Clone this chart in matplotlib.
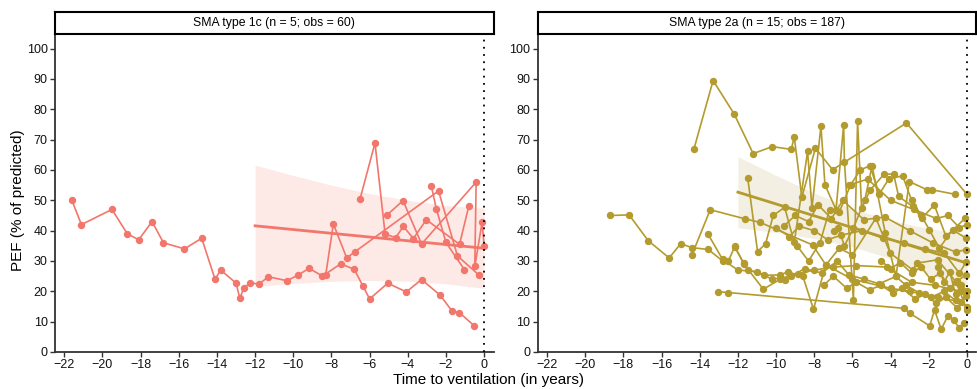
import numpy as np
import matplotlib
matplotlib.use("Agg")
import matplotlib.pyplot as plt

plt.rcParams["font.family"] = ["Liberation Sans", "DejaVu Sans"]

# ---- data: SMA type 1c (5 patients) ----
t1c = [
    [-21.6, -21.1, -19.5, -18.7, -18.1, -17.4, -16.8, -15.7, -14.8, -14.1, -13.8, -13.0, -12.8, -12.6, -12.25,
     -11.8, -11.3, -10.33, -9.74, -9.17, -8.47, -7.51, -6.8, -6.34, -6.0, -5.05, -4.08, -3.28, -2.3, -1.67, -1.3, -0.53],
    [-8.3, -7.9, -7.2, -6.78, -2.39, -1.4, -0.28],
    [-6.5, -5.72, -5.19, -4.64, -4.23, -3.71, -3.03, -1.29, -0.8],
    [-5.1, -4.25, -3.28, -0.42, -0.49, -0.11, 0.0],
    [-2.77, -2.51, -2.0, -1.03],
]
v1c = [
    [50.0, 42.0, 47.0, 39.0, 37.0, 43.0, 36.0, 34.0, 37.5, 24.0, 27.0, 22.7, 17.7, 21.0, 22.8,
     22.4, 24.8, 23.5, 25.4, 27.6, 25.0, 29.1, 27.2, 21.6, 17.5, 22.7, 19.8, 23.9, 18.7, 13.4, 13.0, 8.7],
    [25.5, 42.2, 31.0, 33.0, 53.1, 31.7, 25.4],
    [50.5, 68.9, 38.9, 37.7, 41.4, 37.4, 43.6, 35.5, 48.2],
    [45.1, 49.9, 35.6, 56.0, 28.2, 42.7, 35.1],
    [54.8, 47.3, 36.1, 27.1],
]
fit1c_x = [-12, 0]
fit1c_y = [41.6, 34.2]
band1c_x = [-12, -10, -8, -6, -4, -2, 0]
band1c_lo = [21.6, 22.6, 23.3, 23.6, 23.4, 22.5, 21.0]
band1c_hi = [61.6, 58.2, 55.0, 52.2, 50.0, 48.3, 47.4]

# ---- data: SMA type 2a (15 patients) ----
t2a = [
    [-14.3, -13.3, -12.2, -11.2, -10.2, -9.2, -9.05, -8.65, -7.94, -7.04, -3.17, 0.0],
    [-18.7, -17.7, -16.7, -15.6, -15.0, -14.4, -13.55, -12.8, -12.5, -12.17, -11.7, -11.45, -10.65, -9.78,
     -9.4, -8.6, -8.04, -7.4, -6.0, -4.0, -3.0, -1.5, -0.3],
    [-14.41, -13.45, -11.63, -10.83, -8.09, -7.39, -6.69, -6.0, -4.77, -4.02, -2.85, -2.6, -1.54, -0.58, 0.0],
    [-11.49, -10.97, -10.55, -10.15, -9.55, -9.05, -8.35, -8.12, -7.65, -7.44, -6.86, -6.46, -6.42, -5.95,
     -5.73, -5.52, -5.06, -4.33, -3.84, -3.58, -2.85, -2.36, -1.71, -1.1, -0.09],
    [-13.57, -12.8, -12.0, -11.0, -10.2, -9.2, -8.5, -7.6, -6.8, -6.2, -5.4, -4.6, -3.72, -3.2, -2.5, -1.9,
     -1.2, -0.6, 0.0],
    [-13.05, -12.5, -3.3, -3.0, -1.95, -1.7, -1.35, -1.0, -0.7, -0.4, -0.15],
    [-6.95, -6.74, -6.42, -5.95, -5.35, -4.97, -4.28, -3.72, -3.02, -2.1, -1.85, -0.63],
    [-8.9, -8.3, -7.7, -7.2, -6.7, -6.1, -5.6, -5.08, -4.6, -4.1, -3.37, -2.9, -2.4, -1.97, -1.45, -0.75,
     -0.05],
    [-10.0, -9.3, -8.8, -8.0, -7.3, -6.6, -5.5, -4.4, -3.3, -2.2, -1.19, -0.4, -0.05],
    [-7.5, -7.0, -6.3, -5.8, -5.1, -4.5, -3.9, -3.4, -2.7, -2.2, -1.6, -1.1, -0.5, -0.05],
    [-12.17, -11.68, -10.67, -9.78, -9.55, -8.85, -8.0, -7.0, -5.8, -4.2, -2.9, -1.7, -0.3],
    [-9.6, -9.0, -8.3, -7.8, -7.1, -6.5, -5.4, -4.3, -3.0, -1.8, -0.6, -0.05],
    [-4.5, -4.0, -3.5, -2.9, -2.4, -1.9, -1.4, -0.9, -0.5, -0.05],
    [-6.2, -5.2, -4.0, -2.8, -1.6, -1.0, -0.4, 0.0],
    [-1.5, -1.2, -0.9, -0.6, -0.3, 0.0],
]
v2a = [
    [67.0, 89.5, 78.5, 65.4, 67.7, 66.8, 71.0, 51.0, 67.2, 60.1, 75.5, 52.0],
    [45.0, 45.2, 36.7, 31.0, 35.7, 34.4, 33.8, 30.0, 30.0, 34.7, 29.3, 27.1, 25.3, 25.4,
     26.4, 25.0, 14.1, 28.7, 24.0, 21.0, 20.0, 18.0, 16.5],
    [32.0, 46.9, 43.9, 42.7, 35.3, 28.7, 34.2, 32.0, 44.1, 32.6, 27.1, 29.3, 30.4, 23.2, 13.9],
    [57.5, 33.1, 35.7, 45.0, 47.7, 36.1, 66.1, 47.4, 74.4, 55.1, 46.9, 74.9, 62.8, 17.2,
     76.0, 47.4, 53.5, 58.7, 58.6, 51.3, 48.0, 44.1, 48.5, 38.1, 44.1],
    [38.9, 30.5, 27.0, 26.5, 24.0, 25.0, 27.5, 26.0, 30.0, 25.5, 24.0, 22.5, 24.9, 22.0, 19.5, 18.0,
     20.0, 17.0, 15.0],
    [19.9, 19.6, 14.4, 12.8, 8.6, 13.9, 7.5, 11.9, 10.6, 7.8, 9.5],
    [40.0, 40.8, 35.0, 40.8, 50.2, 61.4, 39.2, 24.9, 56.2, 53.5, 53.5, 52.0],
    [35.0, 30.0, 36.0, 46.9, 46.0, 55.0, 60.0, 61.4, 52.0, 57.0, 58.1, 50.0, 45.0, 40.3, 34.2, 40.3,
     37.5],
    [41.0, 38.0, 41.5, 40.0, 37.0, 38.5, 40.0, 37.5, 36.0, 34.0, 32.6, 26.0, 29.6],
    [22.0, 25.0, 21.0, 23.0, 20.5, 22.0, 19.5, 21.0, 17.5, 19.0, 16.0, 18.0, 14.5, 18.3],
    [34.8, 29.0, 20.7, 24.0, 23.8, 25.8, 27.0, 28.0, 28.5, 28.0, 23.0, 22.0, 20.0],
    [41.5, 45.0, 43.0, 48.5, 44.0, 50.0, 43.6, 44.5, 40.0, 36.0, 33.0, 33.7],
    [30.0, 27.5, 29.5, 26.0, 28.0, 24.0, 26.0, 21.0, 23.5, 25.4],
    [55.0, 57.0, 50.0, 47.0, 44.0, 45.0, 41.0, 42.0],
    [28.0, 23.0, 26.5, 19.0, 22.0, 20.0],
]
fit2a_x = [-12, 0]
fit2a_y = [52.7, 29.3]
band2a_x = [-12, -10, -8, -6, -4, -2, 0]
band2a_lo = [41.0, 39.4, 37.4, 34.7, 30.8, 25.7, 19.8]
band2a_hi = [64.4, 58.2, 52.4, 47.3, 43.4, 40.7, 38.8]

titles = ["SMA type 1c (n = 5; obs = 60)", "SMA type 2a (n = 15; obs = 187)"]
colors = ["#F2766B", "#B39B2E"]
band_colors = ["#FDE9E5", "#F3EFE2"]

W, H = 978, 389
fig = plt.figure(figsize=(W / 100, H / 100), dpi=100)

panels = [
    (54.7, t1c, v1c, fit1c_x, fit1c_y, band1c_x, band1c_lo, band1c_hi),
    (537.5, t2a, v2a, fit2a_x, fit2a_y, band2a_x, band2a_lo, band2a_hi),
]
ax_w, ax_top, ax_bot = 439.0, 33.5, 352.0

for i, (x0, ts, vs, fx, fy, bx, blo, bhi) in enumerate(panels):
    ax = fig.add_axes([x0 / W, 1 - ax_bot / H, ax_w / W, (ax_bot - ax_top) / H])
    ax.fill_between(bx, blo, bhi, color=band_colors[i], lw=0, zorder=1)
    for t, v in zip(ts, vs):
        ax.plot(t, v, "-o", color=colors[i], lw=1.2, ms=4.3, zorder=3)
    ax.plot(fx, fy, color=colors[i], lw=2.0, zorder=4)
    ax.axvline(0, color="black", ls=(0, (1, 3)), lw=1.3, zorder=5)

    ax.set_xlim(-22.5, 0.5)
    ax.set_ylim(0, 105)
    ax.set_xticks(np.arange(-22, 1, 2))
    ax.set_xticklabels([f"\u2212{abs(k)}" if k < 0 else "0" for k in range(-22, 1, 2)])
    ax.set_yticks(np.arange(0, 101, 10))
    for s in ["top", "right"]:
        ax.spines[s].set_visible(False)
    for s in ["left", "bottom"]:
        ax.spines[s].set_linewidth(1.3)
        ax.spines[s].set_color("#333333")
    ax.tick_params(direction="out", length=3.5, width=1.0, labelsize=9, color="#333333",
                   labelcolor="#111111", pad=1.5)

    # facet strip
    sax = fig.add_axes([x0 / W, 1 - ax_top / H, ax_w / W, 21.5 / H])
    sax.set_xticks([])
    sax.set_yticks([])
    for s in sax.spines.values():
        s.set_linewidth(1.5)
        s.set_color("black")
    sax.text(0.5, 0.5, titles[i], ha="center", va="center", fontsize=8.8, transform=sax.transAxes)

fig.text(18 / W, 1 - 200 / H, "PEF (% of predicted)", rotation=90, ha="center", va="center", fontsize=11)
fig.text(489 / W, 1 - 380 / H, "Time to ventilation (in years)", ha="center", va="center", fontsize=11)

fig.savefig("out.png", dpi=100)
